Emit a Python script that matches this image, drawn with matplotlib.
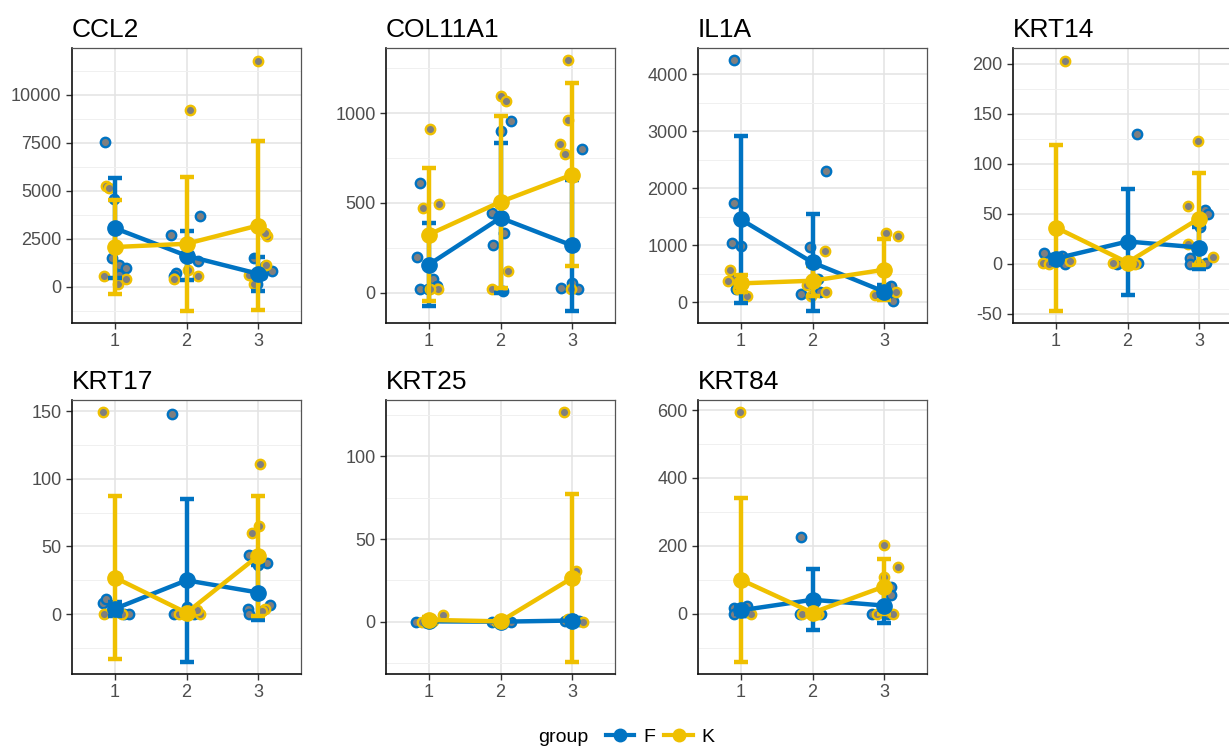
import matplotlib
matplotlib.use("Agg")
import matplotlib.pyplot as plt
from matplotlib.lines import Line2D
from matplotlib.ticker import MultipleLocator, FormatStrFormatter

plt.rcParams["font.family"] = ["Liberation Sans", "DejaVu Sans"]
plt.rcParams["axes.unicode_minus"] = False

GENES = ["CCL2", "COL11A1", "IL1A", "KRT14", "KRT17", "KRT25", "KRT84"]
TIMES = [1, 2, 3]
TICK_STEP = [2500, 500, 1000, 50, 50, 50, 200]

# group means / sd per time point
MEAN_F = [[3050, 1620, 680], [157, 417, 263], [1453, 698, 186], [5, 22, 16],
          [4, 25, 16], [0.3, 0.1, 0.8], [10, 41, 24]]
SD_F = [[2600, 1280, 870], [232, 417, 362], [1470, 843, 110], [4, 53, 21],
        [5, 60, 20], [0.4, 0.2, 1.0], [10, 90, 50]]
MEAN_K = [[2070, 2240, 3190], [324, 506, 657], [331, 378, 570], [36, 1, 45],
          [27, 1, 43], [1.2, 0.3, 26.5], [100, 3, 80]]
SD_K = [[2430, 3470, 4370], [370, 480, 510], [145, 260, 535], [83, 1, 46],
        [60, 1, 44], [2, 0.4, 50.5], [241, 2, 80]]

# jittered raw points (x, value)
PTS_F = [
    [(0.86, 7530), (0.98, 4570), (0.96, 1500), (1.06, 1120), (1.15, 980), (1.05, 600),
     (1.79, 2720), (2.19, 3690), (2.16, 1330), (1.85, 740), (1.82, 570),
     (2.95, 1500), (3.2, 810), (3.05, 600), (2.98, 170), (3.1, 1100)],
    [(0.87, 611), (0.83, 200), (0.87, 22), (1.05, 74), (1.11, 37), (0.98, 22),
     (2.15, 954), (2.0, 898), (2.05, 333), (1.9, 263), (2.03, 9), (1.88, 444),
     (3.14, 802), (2.85, 28), (3.08, 18), (3.0, 56)],
    [(0.91, 4244), (0.91, 1744), (0.87, 1047), (1.0, 988), (0.87, 407), (0.93, 233),
     (2.19, 2297), (1.96, 977), (1.84, 145), (2.11, 186), (2.08, 407),
     (3.1, 290), (3.13, 29), (3.03, 180)],
    [(0.83, 11), (1.08, 8), (1.12, 0), (0.95, 3),
     (2.13, 130), (1.85, 0), (2.15, 1), (2.05, 2),
     (3.08, 54), (3.12, 50), (3.02, 37), (2.88, 6), (2.88, 0), (3.1, 1)],
    [(0.84, 8), (0.88, 11), (1.13, 0), (1.2, 0), (0.96, 2),
     (1.8, 148), (1.82, 0), (2.1, 0), (2.0, 5),
     (2.88, 44), (3.12, 38), (3.0, 36), (3.16, 7), (2.86, 4), (2.87, 0)],
    [(0.82, 0), (0.95, 0), (1.03, 0.2), (1.88, 0), (2.05, 0), (2.15, 0.1),
     (2.9, 0.5), (3.02, 2), (3.1, 0.3)],
    [(0.9, 17), (1.08, 23), (0.9, 0), (1.05, 5),
     (1.84, 227), (1.82, 0), (2.12, 0), (2.0, 0),
     (3.1, 79), (3.09, 56), (2.83, 0), (3.05, 0), (3.02, 30)],
]
PTS_K = [
    [(0.88, 5220), (0.92, 5150), (0.85, 570), (1.04, 170), (1.15, 430),
     (2.05, 9220), (1.82, 430), (2.16, 570), (2.02, 860),
     (3.0, 11770), (3.12, 2640), (3.1, 2800), (3.11, 1120), (2.87, 600), (2.95, 170)],
    [(1.01, 911), (1.14, 496), (0.92, 470), (1.13, 18), (1.02, 22),
     (2.0, 1096), (2.07, 1070), (2.1, 120), (1.88, 18),
     (2.95, 1293), (2.95, 959), (2.83, 830), (2.9, 774), (2.98, 18)],
    [(0.85, 570), (1.09, 116), (0.82, 378), (0.96, 233),
     (2.17, 901), (2.19, 174), (1.98, 116), (1.92, 300),
     (3.03, 1221), (3.19, 1163), (3.17, 174), (2.88, 128)],
    [(1.13, 203), (1.2, 3), (0.82, 1), (0.9, 0),
     (1.8, 1), (2.1, 0),
     (2.98, 123), (2.84, 58), (2.84, 20), (3.2, 7), (3.0, 0)],
    [(0.84, 149), (0.85, 0), (1.1, 0),
     (2.19, 0), (1.9, 0), (2.15, 3),
     (3.03, 111), (3.02, 65), (2.92, 60), (3.1, 4), (3.05, 2)],
    [(1.2, 4.4), (0.9, 0), (1.05, 0.5), (1.95, 0), (2.0, 0.8),
     (2.89, 126.6), (3.05, 30.5), (3.15, 0), (2.95, 1.5)],
    [(0.99, 593), (1.14, 0), (1.0, 10),
     (1.85, 0), (2.08, 0),
     (3.0, 202), (3.2, 137), (3.0, 109), (3.13, 0), (2.9, 0)],
]

COL_F = "#0073C2"
COL_K = "#EFC000"

fig = plt.figure(figsize=(12.29, 7.47), dpi=100)
W, H = 1229, 747
lefts = [72, 386, 698, 1013]
pw = 229


def panel(i):
    r, c = divmod(i, 4)
    top, bot = (48, 323) if r == 0 else (400, 674)
    return fig.add_axes([lefts[c] / W, 1 - bot / H, pw / W, (bot - top) / H])


for i, g in enumerate(GENES):
    ax = panel(i)
    series = [(PTS_F[i], MEAN_F[i], SD_F[i], COL_F), (PTS_K[i], MEAN_K[i], SD_K[i], COL_K)]
    for pts, m, s, col in series:
        ax.scatter([p[0] for p in pts], [p[1] for p in pts], s=46, c="#7f7f7f",
                   edgecolors=col, linewidths=1.7, zorder=3)
    for pts, m, s, col in series:
        ax.errorbar(TIMES, m, yerr=s, fmt="none", ecolor=col, elinewidth=3.2,
                    capsize=5, capthick=3.2, zorder=4)
        ax.plot(TIMES, m, "-o", color=col, lw=3.2, ms=11, zorder=5)

    ax.set_xlim(0.4, 3.6)
    ax.set_xticks(TIMES)
    ax.yaxis.set_major_locator(MultipleLocator(TICK_STEP[i]))
    ax.yaxis.set_minor_locator(MultipleLocator(TICK_STEP[i] / 2))
    ax.yaxis.set_major_formatter(FormatStrFormatter("%d"))
    ax.grid(which="major", color="#e3e3e3", lw=1.1, zorder=0)
    ax.grid(which="minor", axis="y", color="#f0f0f0", lw=0.7, zorder=0)
    ax.set_axisbelow(True)
    ax.tick_params(labelsize=13, labelcolor="#4d4d4d", color="#333333", length=4, width=1)
    ax.tick_params(which="minor", length=0)
    for sp in ("left", "bottom"):
        ax.spines[sp].set_color("#111111")
        ax.spines[sp].set_linewidth(1.2)
    for sp in ("top", "right"):
        ax.spines[sp].set_color("#555555")
        ax.spines[sp].set_linewidth(0.9)
    ax.set_title(g, loc="left", fontsize=19, pad=8)

# legend along the bottom
fig.text(538 / W, 1 - 737 / H, "group", fontsize=14, va="center", ha="left")
handles = [Line2D([], [], color=COL_F, lw=3, marker="o", ms=9),
           Line2D([], [], color=COL_K, lw=3, marker="o", ms=9)]
fig.legend(handles, ["F", "K"], loc="center left", bbox_to_anchor=(604 / W, 1 - 737 / H),
           ncol=2, frameon=False, fontsize=14, handlelength=1.45, columnspacing=0.5,
           handletextpad=0.45, borderpad=0.1, borderaxespad=0)

fig.savefig("out.png", dpi=100)
